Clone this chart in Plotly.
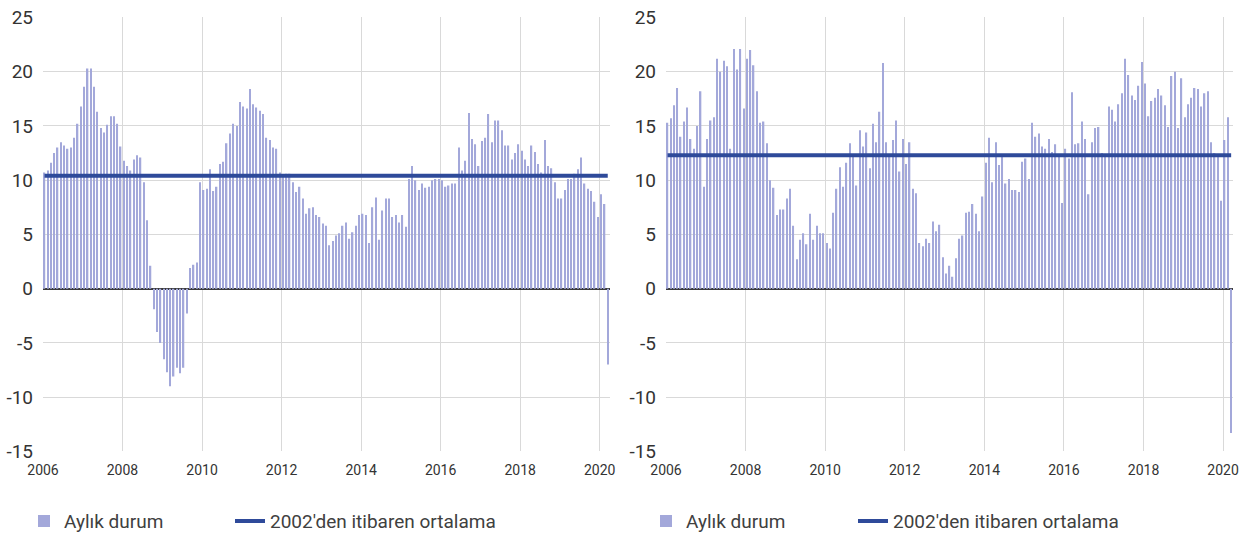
import pandas as pd
import plotly.graph_objects as go

# monthly observations, Jan 2006 - Mar 2020 (plotted at mid-month)
months = pd.date_range("2006-01-01", periods=171, freq="MS") + pd.Timedelta(days=14)

left_values = [
    10.7, 10.9, 11.6, 12.5, 13.0, 13.5, 13.2, 12.9, 13.0, 13.9, 15.2, 16.8,
    18.6, 20.3, 20.3, 18.6, 16.3, 14.8, 14.4, 15.1, 15.9, 15.9, 15.2, 13.1,
    11.8, 11.3, 10.9, 11.9, 12.3, 12.1, 9.8, 6.3, 2.1, -1.9, -4.0, -5.0,
    -6.5, -7.7, -9.0, -8.1, -7.3, -7.8, -7.3, -2.3, 1.9, 2.2, 2.4, 9.8,
    9.1, 9.2, 11.0, 9.0, 9.4, 11.5, 11.7, 13.4, 14.3, 15.2, 15.0, 17.2,
    16.8, 16.6, 18.4, 17.0, 16.7, 16.4, 16.1, 13.9, 13.7, 13.0, 12.9, 10.7,
    10.4, 10.6, 10.6, 9.8, 8.9, 9.4, 8.3, 6.9, 7.4, 7.5, 6.8, 6.6,
    6.0, 5.8, 4.0, 4.4, 4.9, 5.1, 5.8, 6.1, 4.6, 5.2, 5.8, 6.8,
    6.9, 6.8, 4.2, 7.5, 8.4, 4.5, 7.2, 8.3, 8.3, 6.6, 6.8, 6.1,
    6.8, 5.7, 10.1, 11.3, 10.0, 9.1, 9.7, 9.3, 9.4, 10.0, 10.1, 10.1,
    10.0, 9.4, 9.5, 9.7, 9.7, 13.0, 10.9, 11.8, 16.2, 13.8, 13.3, 11.3,
    13.6, 13.9, 16.1, 13.5, 15.5, 15.5, 14.6, 13.2, 13.2, 11.9, 12.5, 13.3,
    12.7, 11.9, 11.3, 13.2, 12.6, 11.5, 10.7, 13.7, 11.3, 11.1, 9.8, 8.3,
    8.3, 9.1, 10.1, 10.1, 10.6, 11.0, 12.1, 9.7, 9.2, 9.0, 8.0, 6.6,
    8.7, 7.8, -7.0,
]

right_values = [
    15.3, 15.7, 16.9, 18.5, 14.0, 15.4, 16.7, 13.8, 12.9, 15.0, 18.2, 9.4,
    13.8, 15.5, 15.8, 21.2, 20.0, 21.0, 20.5, 12.9, 22.1, 20.2, 22.1, 16.6,
    21.2, 22.0, 20.6, 18.2, 15.3, 15.4, 13.4, 10.0, 9.3, 6.8, 7.3, 7.3,
    8.3, 9.2, 5.8, 2.7, 4.5, 5.1, 4.1, 6.9, 4.5, 5.8, 5.1, 5.1,
    4.2, 3.7, 7.0, 9.2, 11.2, 9.4, 11.6, 13.4, 12.4, 9.5, 14.6, 13.1,
    14.4, 11.1, 15.2, 13.5, 16.3, 20.8, 13.5, 12.3, 13.7, 15.5, 10.8, 13.8,
    11.5, 13.5, 9.2, 8.8, 4.2, 3.9, 4.6, 4.2, 6.2, 5.3, 5.9, 2.9,
    1.4, 2.1, 1.1, 2.8, 4.6, 4.9, 7.0, 7.1, 7.8, 6.9, 5.3, 8.5,
    11.6, 13.9, 9.8, 13.5, 11.4, 12.2, 9.7, 10.1, 9.1, 9.1, 8.9, 11.7,
    12.0, 10.1, 15.3, 14.0, 14.3, 13.1, 12.9, 13.8, 12.6, 13.3, 12.2, 7.9,
    12.9, 12.0, 18.1, 13.3, 13.4, 15.4, 13.8, 8.7, 13.5, 14.8, 14.9, 12.5,
    12.2, 16.8, 16.5, 15.4, 17.0, 18.0, 21.2, 19.7, 17.8, 17.4, 18.7, 20.9,
    18.9, 15.9, 17.3, 17.6, 18.4, 17.8, 16.9, 14.9, 19.6, 20.0, 14.8, 19.4,
    15.8, 17.0, 17.6, 18.5, 18.4, 16.8, 18.0, 18.2, 13.5, 12.5, 12.3, 8.1,
    13.7, 15.8, -13.3,
]

left_avg = 10.4
right_avg = 12.3

bar_name = "Aylık durum"
avg_name = "2002'den itibaren ortalama"
x_ticks = [str(y) for y in range(2006, 2021, 2)]
y_ticks = [25, 20, 15, 10, 5, 0, -5, -10, -15]

BAR_COLOR = "#a3a8da"
AVG_COLOR = "#2e4a9a"
GRID = "#d9d9d9"
FONT = "Roboto, Liberation Sans, sans-serif"
W, H = 1243, 548

fig = go.Figure()

# one legend per entry so each label can sit where the original puts it
panels = [
    (left_values, left_avg, "x", "y", "legend2", "legend3"),
    (right_values, right_avg, "x2", "y2", "legend4", "legend5"),
]
for vals, avg, xa, ya, lg_bar, lg_avg in panels:
    fig.add_trace(go.Bar(x=months, y=vals, name=bar_name, marker_color=BAR_COLOR,
                         marker_line_width=0, xaxis=xa, yaxis=ya, legend=lg_bar,
                         showlegend=True))
    fig.add_trace(go.Scatter(x=[months[0], months[-1]], y=[avg, avg], name=avg_name,
                             mode="lines", line=dict(color=AVG_COLOR, width=4),
                             xaxis=xa, yaxis=ya, legend=lg_avg, showlegend=True))

xaxis_common = dict(type="date", range=["2006-01-01", "2020-04-01"], automargin=False,
                    tickvals=[f"{y}-01-01" for y in x_ticks], ticktext=x_ticks,
                    showgrid=True, gridcolor=GRID, gridwidth=1, showline=False,
                    ticks="", ticklabelstandoff=9,
                    tickfont=dict(size=14, color="#333333", family=FONT))
yaxis_common = dict(range=[-15, 25], automargin=False,
                    tickvals=y_ticks, ticktext=[str(v) for v in y_ticks],
                    showgrid=False,
                    minor=dict(tickvals=[20, 15, 10, 5, -5, -10], showgrid=True,
                               gridcolor=GRID, gridwidth=1, ticks=""),
                    zeroline=True, zerolinecolor="#3a3a3a",
                    zerolinewidth=1.5, showline=False, ticks="", ticklabelstandoff=9,
                    tickfont=dict(size=19, color="#333333", family=FONT))


def legend_at(px):
    return dict(x=px / W, xanchor="left", y=0.049, yanchor="middle",
                font=dict(size=19, family=FONT, color="#404040"),
                bgcolor="rgba(0,0,0,0)", borderwidth=0, visible=True)


fig.update_layout(
    width=W, height=H,
    margin=dict(l=0, r=0, t=0, b=0),
    paper_bgcolor="white", plot_bgcolor="white",
    showlegend=True,
    bargap=0.55,
    font=dict(family=FONT, color="#404040"),
    xaxis=dict(domain=[43 / W, 609.6 / W], anchor="y", **xaxis_common),
    yaxis=dict(domain=[0.1763, 0.9682], anchor="x", **yaxis_common),
    xaxis2=dict(domain=[666 / W, 1233 / W], anchor="y2", **xaxis_common),
    yaxis2=dict(domain=[0.1763, 0.9682], anchor="x2", **yaxis_common),
    legend2=legend_at(24),
    legend3=legend_at(230),
    legend4=legend_at(646),
    legend5=legend_at(853),
)

fig.write_html("out.html", config={"displayModeBar": False},
               post_script="document.body.style.margin = '0px';")
